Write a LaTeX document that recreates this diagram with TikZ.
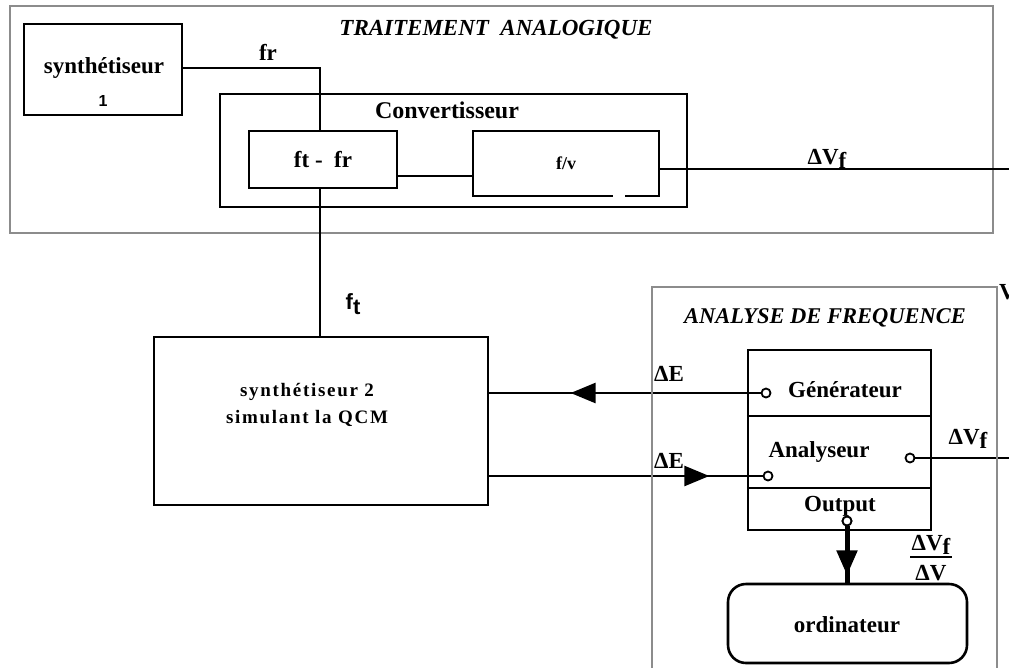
\documentclass[tikz,border=0pt]{standalone}
\usepackage{fontspec}
\setmainfont{Liberation Serif}
\newfontfamily\hv{Liberation Sans}
\usetikzlibrary{arrows.meta,decorations.markings}
\definecolor{frame}{RGB}{140,140,140}
\newcommand{\dvf}{ΔV\raisebox{-0.35ex}{f}}
\begin{document}
\begin{tikzpicture}[x=1pt,y=-1pt,
  blk/.style={draw,line width=2.6pt,inner sep=0pt},
  thinblk/.style={draw,line width=2.2pt,inner sep=0pt},
  gframe/.style={draw=frame,line width=2.6pt},
  wire/.style={line width=2.6pt},
  port/.style={circle,draw,line width=1.8pt,fill=white,minimum size=9pt,inner sep=0pt},
  txt/.style={font=\fontsize{23}{26}\selectfont\bfseries,inner sep=0pt},
  ttl/.style={font=\fontsize{23}{26}\selectfont\bfseries\itshape,inner sep=0pt},
  sm/.style={font=\fontsize{18}{20}\selectfont\bfseries,inner sep=0pt},
  sans/.style={font=\hv\fontsize{16}{18}\selectfont\bfseries,inner sep=0pt},
  midarrow/.style={postaction={decorate},decoration={markings,mark=at position #1 with {\arrow{Triangle[length=25pt,width=20pt]}}}}
]
\useasboundingbox (0,0) rectangle (1009,667);

% Traitement analogique frame
\draw[gframe] (10,6) rectangle (993,233);
\node[ttl] (t1) at (496,30) {TRAITEMENT\ \ ANALOGIQUE};

\node[blk,minimum width=158pt,minimum height=91pt] (s1) at (103,69.5) {};
\node[txt] (s1t) at (104,68) {synthétiseur};
\node[sans] (s1n) at (103,101) {1};

\node[blk,minimum width=467pt,minimum height=113pt] (conv) at (453.5,150.5) {};
\node[txt,font=\fontsize{24}{26}\selectfont\bfseries] (convt) at (447,110) {Convertisseur};

\node[blk,minimum width=148pt,minimum height=57pt,txt] (ftfr) at (323,159.5) {ft -\ \ fr};
\node[blk,minimum width=186pt,minimum height=65pt,sm] (fv) at (566,163.5) {f/v};
\draw[white,line width=2pt] (613,196) -- (625,196);

\coordinate (j1) at (320,68);
\coordinate (y176) at (0,176);
\coordinate (y169) at (0,169);
\coordinate (out1) at (1012,169);
\draw[wire,line width=2.2pt] (s1.east |- j1) -- (j1) -- (j1 |- ftfr.north);
\node[txt] (fr) at (268,52) {fr};
\draw[wire] (ftfr.east |- y176) -- (fv.west |- y176);
\draw[wire] (fv.east |- y169) -- (out1);
\node[txt] (dv1) at (827,159) {\dvf};

% ft link
\node[blk,minimum width=334pt,minimum height=168pt] (s2) at (321,421) {};
\draw[wire] (j1 |- ftfr.south) -- (j1 |- s2.north);
\node[font=\hv\fontsize{22}{24}\selectfont\bfseries,inner sep=0pt] (ft) at (353,304) {f\raisebox{-0.4ex}{t}};
\node[inner sep=0pt,align=center,font=\fontsize{19}{27}\selectfont\bfseries\addfontfeature{LetterSpace=9}] (s2t) at (307,405) {synthétiseur 2\\simulant la QCM};

% Analyse de frequence
\node[thinblk,minimum width=183pt,minimum height=180pt] (ga) at (839.5,440) {};
\coordinate (d1) at (0,416);
\coordinate (d2) at (0,488);
\draw[line width=2.6pt] (ga.west |- d1) -- (ga.east |- d1);
\draw[line width=2.6pt] (ga.west |- d2) -- (ga.east |- d2);
\node[txt] (gen) at (845,390) {Générateur};
\node[txt] (ana) at (819,452) {Analyseur};
\node[txt] (outp) at (840,506) {Output};
\node[blk,rounded corners=18pt,minimum width=239pt,minimum height=79pt] (ord) at (847.5,623.5) {};
\node[txt] (ordt) at (847,625) {ordinateur};

\node[port] (genc) at (766,393) {};
\node[port] (anain) at (768,476) {};
\node[port] (anaout) at (910,458) {};
\node[port] (outc) at (847,521) {};

\coordinate (out2) at (1012,458);
\draw[wire,midarrow=190pt] (genc.west) -- (s2.east |- genc);
\draw[wire,midarrow=220pt] (s2.east |- anain) -- (anain.west);
\draw[wire] (anaout.east) -- (out2);
\draw[line width=5pt,midarrow=49pt] (outc.south) -- (outc.south |- ord.north);
\node[port] at (outc) {};

\node[txt,anchor=west] (de1) at (654,374) {ΔE};
\node[txt,anchor=west] (de2) at (654,461) {ΔE};
\node[txt] (dv2) at (968,439) {\dvf};
\node[txt] (fr1) at (931,545) {\dvf};
\node[txt] (fr2) at (931,573) {ΔV};
\draw[line width=2pt] (910,557) -- (952,557);

\draw[gframe] (652,672) -- (652,287) -- (997,287) -- (997,672);
\node[ttl,font=\fontsize{22.5}{26}\selectfont\bfseries\itshape] (t2) at (825,318) {ANALYSE DE FREQUENCE};
\node[txt,anchor=west] (vcut) at (999,292) {V};
\end{tikzpicture}
\end{document}
